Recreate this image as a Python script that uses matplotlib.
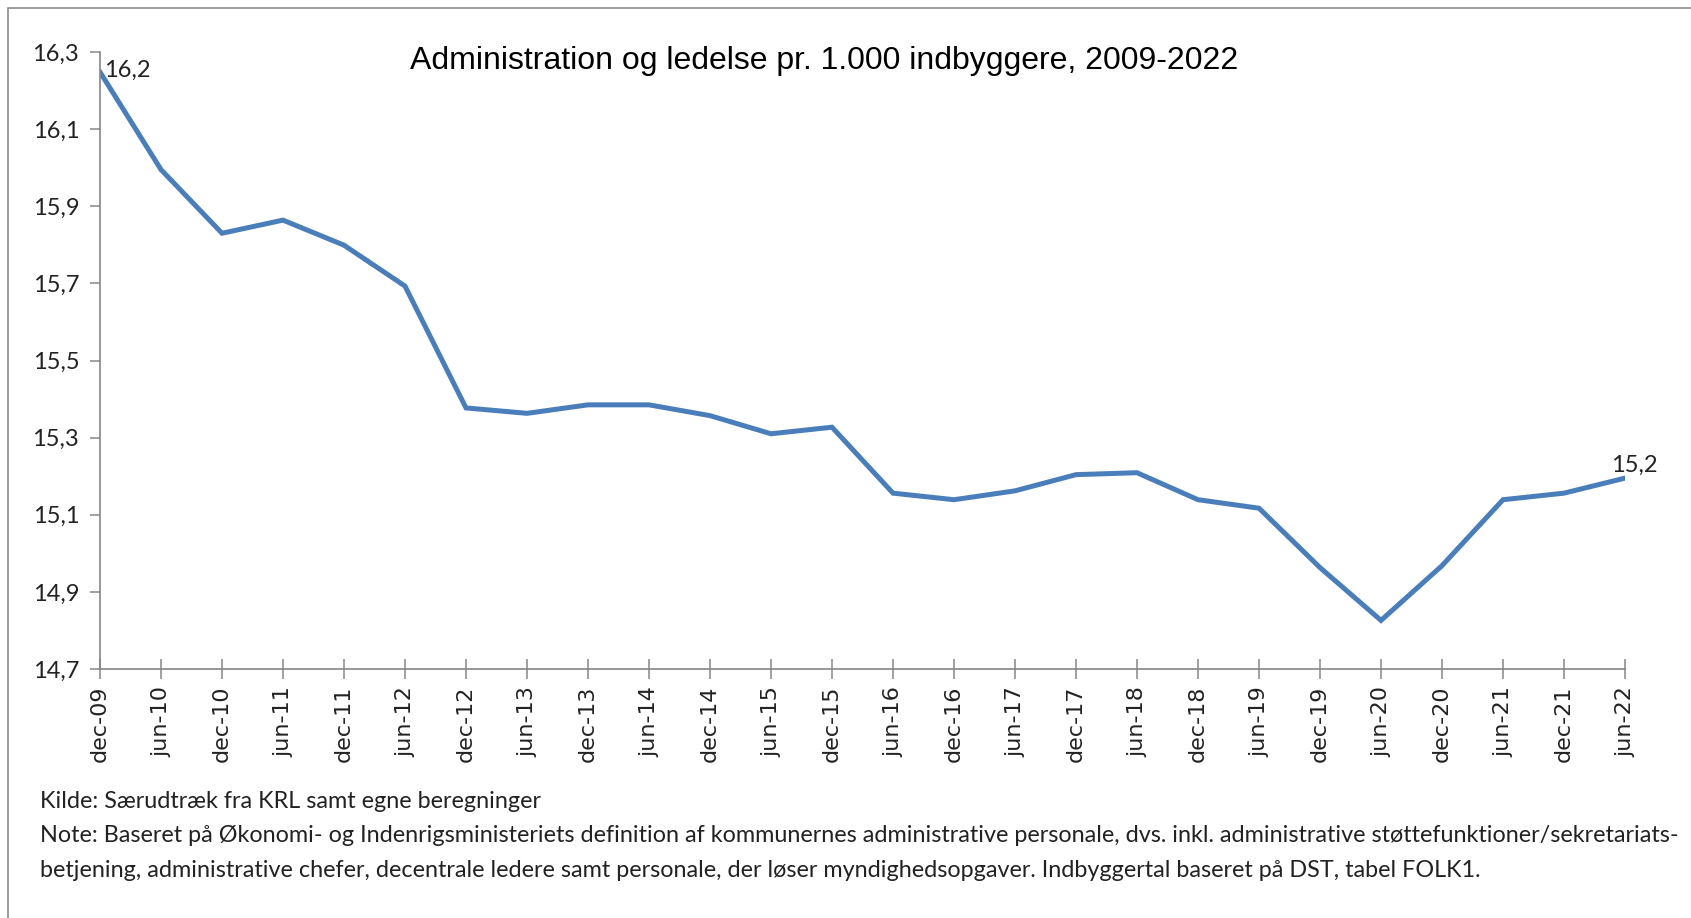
"""Administration og ledelse pr. 1.000 indbyggere, 2009-2022 (line chart)."""

import matplotlib

matplotlib.use("Agg")
import matplotlib.pyplot as plt
from matplotlib.patches import Rectangle
from matplotlib.ticker import FuncFormatter

# data
periods = [
    "dec-09", "jun-10", "dec-10", "jun-11", "dec-11", "jun-12", "dec-12",
    "jun-13", "dec-13", "jun-14", "dec-14", "jun-15", "dec-15", "jun-16",
    "dec-16", "jun-17", "dec-17", "jun-18", "dec-18", "jun-19", "dec-19",
    "jun-20", "dec-20", "jun-21", "dec-21", "jun-22",
]
admin_per_1000 = [
    16.248, 15.995, 15.830, 15.864, 15.799, 15.693, 15.377,
    15.363, 15.385, 15.385, 15.357, 15.310, 15.327, 15.156,
    15.139, 15.162, 15.204, 15.209, 15.139, 15.117, 14.963,
    14.826, 14.968, 15.139, 15.156, 15.195,
]
y_ticks = [14.7, 14.9, 15.1, 15.3, 15.5, 15.7, 15.9, 16.1, 16.3]

title = "Administration og ledelse pr. 1.000 indbyggere, 2009-2022"
source_note = "Kilde: Særudtræk fra KRL samt egne beregninger"
note_lines = [
    "Note: Baseret på Økonomi- og Indenrigsministeriets definition af kommunernes "
    "administrative personale, dvs. inkl. administrative støttefunktioner/sekretariats-",
    "betjening, administrative chefer, decentrale ledere samt personale, der løser "
    "myndighedsopgaver. Indbyggertal baseret på DST, tabel FOLK1.",
]

LINE_BLUE = "#4a7ebb"
AXIS_GREY = "#868686"
TEXT_FONT = "Lato"

W, H = 1691, 918
fig = plt.figure(figsize=(W / 100, H / 100), dpi=100)

# outer chart frame
fig.patches.append(
    Rectangle((8 / W, -0.05), 1.2, 1 - 8 / H + 0.05, transform=fig.transFigure,
              fill=False, edgecolor="#8c8c8c", linewidth=1.2)
)

left, right, top, bottom = 100, 1625, 52, 669
ax = fig.add_axes([left / W, 1 - bottom / H, (right - left) / W, (bottom - top) / H])

x = list(range(len(periods)))
ax.plot(x, admin_per_1000, color=LINE_BLUE, linewidth=3.6, solid_joinstyle="miter")

ax.set_xlim(0, len(periods) - 1)
ax.set_ylim(y_ticks[0], y_ticks[-1])
ax.set_yticks(y_ticks)
ax.yaxis.set_major_formatter(FuncFormatter(lambda v, _: f"{v:.1f}".replace(".", ",")))
ax.set_xticks(x)
ax.set_xticklabels(periods, rotation=90, fontsize=16, family="DejaVu Sans",
                   color="#222222")

for side in ("top", "right"):
    ax.spines[side].set_visible(False)
for side in ("left", "bottom"):
    ax.spines[side].set_color(AXIS_GREY)
    ax.spines[side].set_linewidth(1.2)
ax.tick_params(axis="x", direction="inout", length=14, width=1.1, color=AXIS_GREY, pad=5)
ax.tick_params(axis="y", direction="out", length=7, width=1.1, color=AXIS_GREY,
               labelsize=17, labelcolor="#222222", pad=8)
for lbl in ax.get_yticklabels():
    lbl.set_family(TEXT_FONT)

# data labels on first and last points
ax.annotate(f"{admin_per_1000[0]:.1f}".replace(".", ","), (x[0], admin_per_1000[0]),
            xytext=(3, 1), textcoords="offset points", fontsize=17,
            family=TEXT_FONT, ha="left", va="center", color="#222222")
ax.annotate(f"{admin_per_1000[-1]:.1f}".replace(".", ","), (x[-1], admin_per_1000[-1]),
            xytext=(-10, 9), textcoords="offset points", fontsize=17,
            family=TEXT_FONT, ha="left", va="center", color="#222222")

fig.text(824 / W, 1 - 61 / H, title, ha="center", va="center", fontsize=23,
         family="Liberation Sans", color="black")

fig.text(40 / W, 1 - 801 / H, source_note, ha="left", va="center", fontsize=16.8,
         family=TEXT_FONT, color="#222222")
for i, line in enumerate(note_lines):
    fig.text(40 / W, 1 - (836 + 34.5 * i) / H, line, ha="left", va="center",
             fontsize=16.8, family=TEXT_FONT, color="#222222")

fig.savefig("out.png", dpi=100)
